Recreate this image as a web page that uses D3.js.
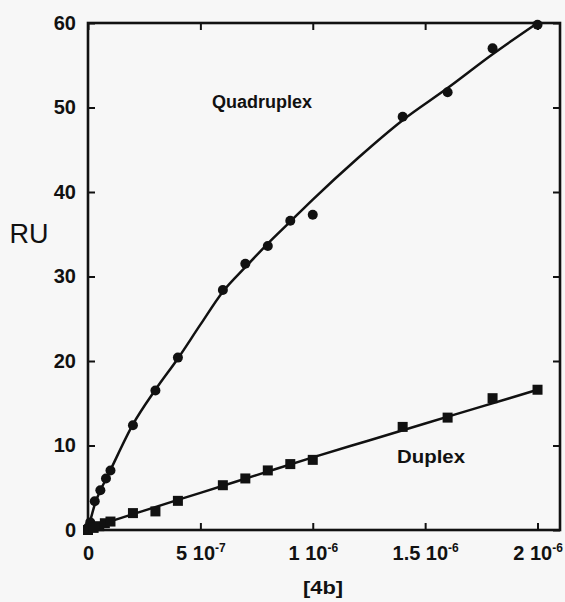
<!DOCTYPE html>
<html><head><meta charset="utf-8">
<script src="https://cdn.jsdelivr.net/npm/d3@7"></script>
<style>
body{margin:0;background:#f7f7f7;}
svg{display:block;background:#f7f7f7;font-family:"Liberation Sans",Arial,sans-serif;}
</style></head>
<body>
<svg id="c" width="565" height="602"></svg>
<script>
// Data (x in M, y in RU)
const quadX = [0, 0.01e-6, 0.03e-6, 0.055e-6, 0.08e-6, 0.1e-6, 0.2e-6, 0.3e-6, 0.4e-6, 0.6e-6, 0.7e-6, 0.8e-6, 0.9e-6, 1.0e-6, 1.4e-6, 1.6e-6, 1.8e-6, 2.0e-6];
const quadY = [0.3, 0.9, 3.4, 4.7, 6.1, 7.05, 12.4, 16.5, 20.4, 28.4, 31.5, 33.6, 36.6, 37.3, 48.9, 51.8, 57.0, 59.8];
const duplexX = [0, 0.025e-6, 0.05e-6, 0.075e-6, 0.1e-6, 0.2e-6, 0.3e-6, 0.4e-6, 0.6e-6, 0.7e-6, 0.8e-6, 0.9e-6, 1.0e-6, 1.4e-6, 1.6e-6, 1.8e-6, 2.0e-6];
const duplexY = [0, 0.25, 0.45, 0.8, 1.0, 2.0, 2.2, 3.45, 5.3, 6.1, 7.05, 7.8, 8.3, 12.2, 13.3, 15.6, 16.6];
// Fitted curves
const quadFitX = [0, 0.03e-6, 0.055e-6, 0.08e-6, 0.1e-6, 0.2e-6, 0.3e-6, 0.4e-6, 0.5e-6, 0.6e-6, 0.7e-6, 0.8e-6, 0.9e-6, 1.0e-6, 1.2e-6, 1.4e-6, 1.6e-6, 1.8e-6, 2.0e-6];
const quadFitY = [0, 3.0, 4.7, 6.0, 7.1, 12.5, 16.6, 20.3, 24.3, 28.2, 31.1, 33.9, 36.5, 39.1, 44.0, 48.5, 52.3, 56.3, 60.0];
const duplexFitX = [0, 0.1e-6, 0.25e-6, 0.5e-6, 0.75e-6, 1.0e-6, 1.25e-6, 1.5e-6, 1.75e-6, 2.0e-6];
const duplexFitY = [0, 1.0, 2.3, 4.4, 6.5, 8.6, 10.6, 12.6, 14.6, 16.6];
const xTicks = [0, 5e-7, 1e-6, 1.5e-6, 2e-6];
const xTickBase = ["0", "5 10", "1 10", "1.5 10", "2 10"];
const xTickExp = ["", "-7", "-6", "-6", "-6"];
const yTicks = [0, 10, 20, 30, 40, 50, 60];

const svg = d3.select("#c");
const L = 88, R = 560, T = 23, B = 530;
const x = d3.scaleLinear().domain([0, 2.1e-6]).range([L, R]);
const y = d3.scaleLinear().domain([0, 60]).range([B, T]);

// axes
const gx = svg.append("g").attr("transform", `translate(0,${B})`)
  .call(d3.axisBottom(x).tickValues(xTicks).tickSizeInner(-7).tickSizeOuter(0).tickPadding(16).tickFormat(""));
gx.selectAll(".tick text").each(function(d, i) {
  const t = d3.select(this);
  t.text(null);
  t.append("tspan").text(xTickBase[i]);
  if (xTickExp[i]) t.append("tspan").attr("dy", "-8").attr("font-size", 12).text(xTickExp[i]);
});
gx.selectAll(".tick text").attr("font-size", 20).attr("font-weight", "bold").attr("fill", "#111").attr("font-family", "'Liberation Sans',Arial,sans-serif");

const gy = svg.append("g").attr("transform", `translate(${L},0)`)
  .call(d3.axisLeft(y).tickValues(yTicks).tickSizeInner(-7).tickSizeOuter(0).tickPadding(12));
gy.selectAll(".tick text").attr("font-size", 20).attr("font-weight", "bold").attr("fill", "#111").attr("font-family", "'Liberation Sans',Arial,sans-serif");

svg.append("g").attr("transform", `translate(0,${T})`)
  .call(d3.axisTop(x).tickValues(xTicks).tickSizeInner(-7).tickSizeOuter(0).tickFormat(""));
svg.append("g").attr("transform", `translate(${R},0)`)
  .call(d3.axisRight(y).tickValues(yTicks).tickSizeInner(-7).tickSizeOuter(0).tickFormat(""));

svg.selectAll(".domain").remove();
svg.selectAll(".tick line").attr("stroke", "#111").attr("stroke-width", 2);

svg.append("rect").attr("x", L).attr("y", T).attr("width", R - L).attr("height", B - T)
  .attr("fill", "none").attr("stroke", "#111").attr("stroke-width", 2.6);

// fit curves
const line = d3.line().x(d => x(d[0])).y(d => y(d[1])).curve(d3.curveMonotoneX);
svg.append("path").datum(d3.zip(quadFitX, quadFitY)).attr("d", line)
  .attr("fill", "none").attr("stroke", "#111").attr("stroke-width", 2.5);
svg.append("path").datum(d3.zip(duplexFitX, duplexFitY)).attr("d", line)
  .attr("fill", "none").attr("stroke", "#111").attr("stroke-width", 2.5);

// markers
svg.append("g").selectAll("circle").data(d3.zip(quadX, quadY)).join("circle")
  .attr("cx", d => x(d[0])).attr("cy", d => y(d[1])).attr("r", 5).attr("fill", "#111");
svg.append("g").selectAll("rect").data(d3.zip(duplexX, duplexY)).join("rect")
  .attr("x", d => x(d[0]) - 5).attr("y", d => y(d[1]) - 5).attr("width", 10).attr("height", 10).attr("fill", "#111");

// labels
svg.append("text").attr("x", 29).attr("y", 243).attr("text-anchor", "middle")
  .attr("font-size", 27).attr("fill", "#111").text("RU");
svg.append("text").attr("x", 262).attr("y", 108).attr("text-anchor", "middle")
  .attr("font-size", 18).attr("font-weight", "bold").attr("fill", "#111").text("Quadruplex");
svg.append("text").attr("x", 397).attr("y", 463)
  .attr("font-size", 18).attr("font-weight", "bold").attr("fill", "#111")
  .attr("textLength", 68).attr("lengthAdjust", "spacingAndGlyphs").text("Duplex");
svg.append("text").attr("x", 303).attr("y", 594)
  .attr("font-size", 19).attr("font-weight", "bold").attr("fill", "#111")
  .attr("textLength", 40).attr("lengthAdjust", "spacingAndGlyphs").text("[4b]");
</script>
</body></html>
